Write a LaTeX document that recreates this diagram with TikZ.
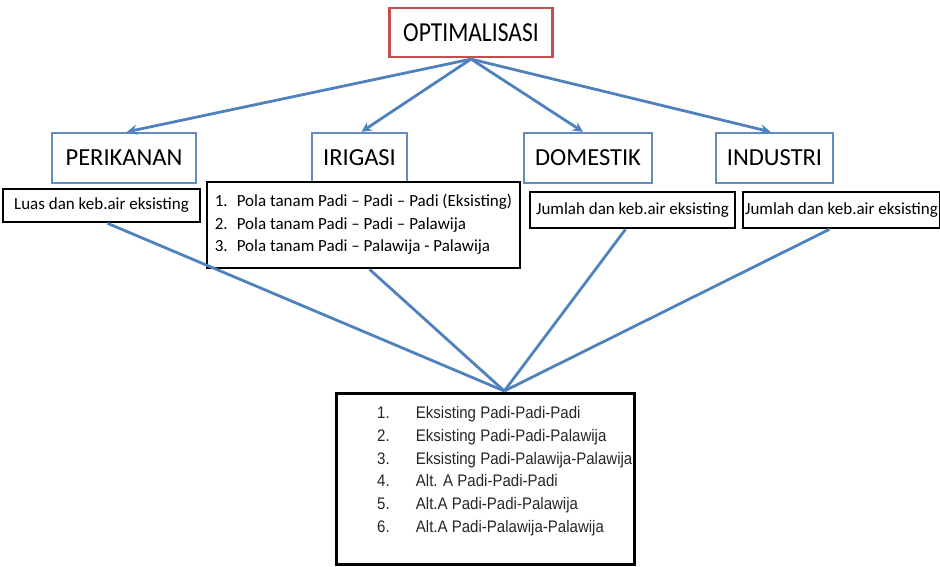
\documentclass[tikz,border=0pt]{standalone}
\usepackage{fontspec}
\setmainfont{Carlito}
\newfontfamily\arialf{Liberation Sans}
\usetikzlibrary{arrows.meta}
\definecolor{accblue}{RGB}{79,129,189}
\definecolor{boxblue}{RGB}{100,140,195}
\definecolor{boxred}{RGB}{192,80,77}
\tikzset{
  bluebox/.style={draw=boxblue, line width=2.4pt, inner sep=0pt, font=\fontsize{24.5}{28}\selectfont},
  redbox/.style={draw=boxred, line width=2.2pt, inner sep=0pt},
  blackbox/.style={draw=black, line width=2.6pt, inner sep=0pt},
  link/.style={draw=accblue, line width=2.8pt},
  arrowlink/.style={link, -{Stealth[length=10pt,width=10pt]}},
  smalltext/.style={font=\fontsize{17}{20}\selectfont},
}
\begin{document}
\begin{tikzpicture}[x=1pt,y=-1pt]
\useasboundingbox (0,0) rectangle (940,566);
% top
\node[redbox, minimum width=163pt, minimum height=49pt, font=\fontsize{24.5}{28}\selectfont] (opt) at (471,32.5) {\scalebox{0.96}[1.12]{OPTIMALISASI}};
% categories
\node[bluebox, minimum width=144pt, minimum height=50pt] (peri) at (124,158) {PERIKANAN};
\node[bluebox, minimum width=95pt, minimum height=50pt] (irig) at (359.5,158) {IRIGASI};
\node[bluebox, minimum width=128pt, minimum height=50pt] (dome) at (588,158) {DOMESTIK};
\node[bluebox, minimum width=117pt, minimum height=50pt] (indu) at (774.5,158) {INDUSTRI};
% detail boxes
\node[blackbox, fill=white, minimum width=197pt, minimum height=33pt, smalltext] (luas) at (101.5,205.5) {Luas dan keb.air eksisting};
\node[blackbox, fill=white, minimum width=313pt, minimum height=86pt, smalltext] (ilist) at (363.5,225) {%
  \begin{tabular}{@{}l@{\hspace{9pt}}l@{}}
  1. & Pola tanam Padi -- Padi -- Padi (Eksisting)\\[2.5pt]
  2. & Pola tanam Padi -- Padi -- Palawija\\[2.5pt]
  3. & Pola tanam Padi -- Palawija - Palawija
  \end{tabular}};
\node[blackbox, fill=white, minimum width=205pt, minimum height=36pt, smalltext] (jum1) at (632.5,210) {Jumlah dan keb.air eksisting};
\node[blackbox, fill=white, minimum width=197pt, minimum height=36pt, smalltext] (jum2) at (841.5,210) {Jumlah dan keb.air eksisting};
% bottom
\node[blackbox, minimum width=298pt, minimum height=171pt, anchor=north west] (bot) at (335,392) {};
\node[anchor=north west, inner sep=0pt, font=\arialf\fontsize{15.5}{18}\selectfont, text=black!85] (botlist) at (377,405) {%
  \scalebox{0.97}[1.08]{\begin{tabular}{@{}l@{\hspace{27pt}}l@{}}
  1. & Eksisting Padi-Padi-Padi\\[3pt]
  2. & Eksisting Padi-Padi-Palawija\\[3pt]
  3. & Eksisting Padi-Palawija-Palawija\\[3pt]
  4. & Alt. A Padi-Padi-Padi\\[3pt]
  5. & Alt.A Padi-Padi-Palawija\\[3pt]
  6. & Alt.A Padi-Palawija-Palawija
  \end{tabular}}};
% connectors top
\coordinate (optb) at ([yshift=-1pt]opt.south);
\draw[arrowlink] (optb) -- ([xshift=3pt]peri.north);
\draw[arrowlink] (optb) -- ([xshift=2pt]irig.north);
\draw[arrowlink] (optb) -- ([xshift=-5pt]dome.north);
\draw[arrowlink] (optb) -- ([xshift=-4pt]indu.north);
% connectors bottom
\coordinate (conv) at ([xshift=19pt,yshift=1pt]bot.north);
\draw[link] ([xshift=6pt]luas.south) -- (conv);
\draw[link] ([xshift=6pt]ilist.south) -- (conv);
\draw[link] ([xshift=-7pt]jum1.south) -- (conv);
\draw[link] ([xshift=-12pt]jum2.south) -- (conv);
\end{tikzpicture}
\end{document}
